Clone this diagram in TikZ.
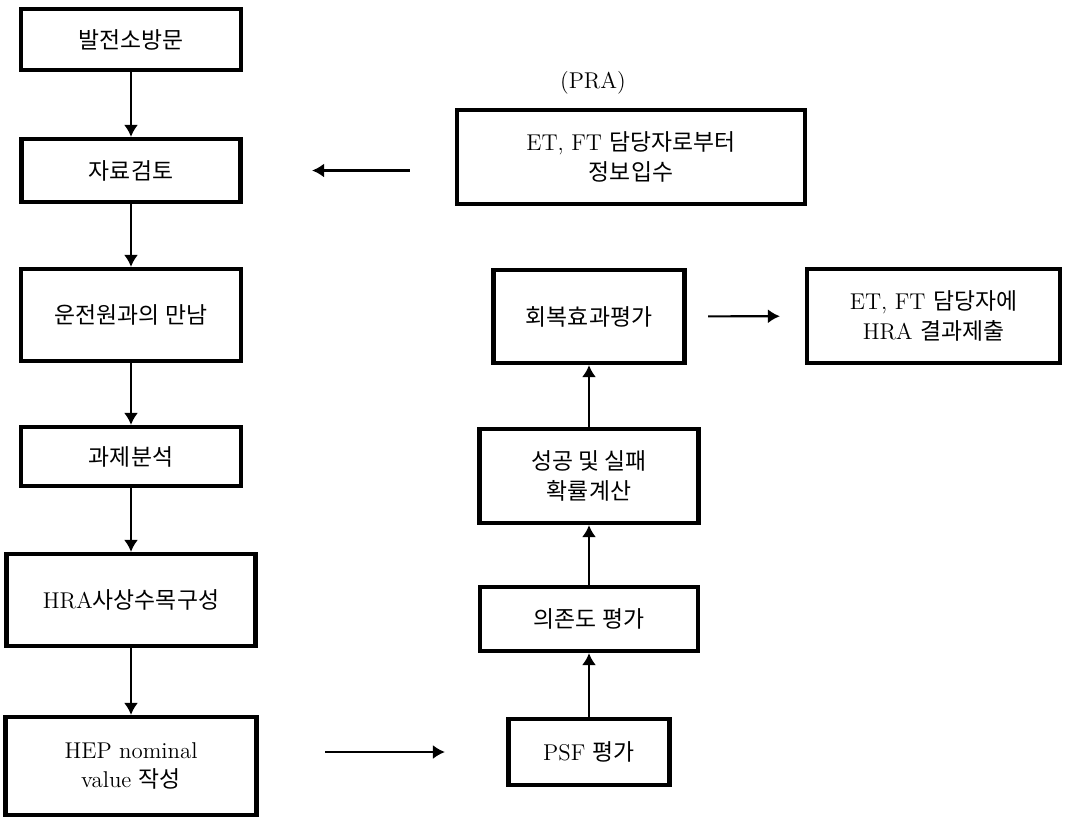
\documentclass[tikz,border=0pt]{standalone}
\usepackage{fontspec}
\newfontfamily\hangul{Noto Sans CJK KR}
\usetikzlibrary{arrows.meta, positioning}

\begin{document}
\begin{tikzpicture}[x=0.02cm, y=-0.02cm,
  stage/.style={draw, line width=2.4pt, align=center, inner sep=2pt, font=\fontsize{13}{17}\selectfont},
  link/.style={-{Latex[length=2.4mm,width=2.8mm]}, line width=1.2pt}]
\useasboundingbox (0,0) rectangle (1068,819);
\node[stage, minimum width=4.41cm, minimum height=1.22cm] (Visit) at (131,39.5) {\hangul 발전소방문};
\node[stage, minimum width=4.38cm, minimum height=1.26cm] (Review) at (131,170.5) {\hangul 자료검토};
\node[stage, minimum width=4.41cm, minimum height=1.84cm] (Meet) at (131,315) {\hangul 운전원과의 만남};
\node[stage, minimum width=4.40cm, minimum height=1.18cm] (Task) at (131,456.5) {\hangul 과제분석};
\node[stage, minimum width=4.98cm, minimum height=1.84cm] (Tree) at (131,600) {HRA{\hangul 사상수목구성}};
\node[stage, minimum width=5.02cm, minimum height=1.96cm] (Nominal) at (131,766) {HEP nominal\\value {\hangul 작성}};
\node[font=\fontsize{13}{17}\selectfont] (PRA) at (593,83) {(PRA)};
\node[stage, minimum width=6.96cm, minimum height=1.88cm] (Info) at (631,157) {ET, FT {\hangul 담당자로부터}\\{\hangul 정보입수}};
\node[stage, minimum width=3.82cm, minimum height=1.86cm] (Recover) at (589,316.5) {\hangul 회복효과평가};
\node[stage, minimum width=4.38cm, minimum height=1.88cm] (Prob) at (589,476) {{\hangul 성공 및 실패}\\{\hangul 확률계산}};
\node[stage, minimum width=4.36cm, minimum height=1.28cm] (Depend) at (589,619) {\hangul 의존도 평가};
\node[stage, minimum width=3.22cm, minimum height=1.32cm] (PSF) at (589,752) {PSF {\hangul 평가}};
\node[stage, minimum width=5.06cm, minimum height=1.88cm] (Report) at (933.5,316) {ET, FT {\hangul 담당자에}\\HRA {\hangul 결과제출}};
\draw[link] (Visit) -- (Review);
\draw[link] (Review) -- (Meet);
\draw[link] (Meet) -- (Task);
\draw[link] (Task) -- (Tree);
\draw[link] (Tree) -- (Nominal);
\draw[link, shorten <=0.9cm, shorten >=1.39cm] (Info.west |- Review.east) -- (Review.east);
\draw[link, shorten <=1.33cm, shorten >=1.23cm] (Nominal.east |- PSF.west) -- (PSF.west);
\draw[link] (PSF) -- (Depend);
\draw[link] (Depend) -- (Prob);
\draw[link] (Prob) -- (Recover);
\draw[link, shorten <=0.43cm, shorten >=0.5cm] (Recover) -- (Report);
\end{tikzpicture}
\end{document}
